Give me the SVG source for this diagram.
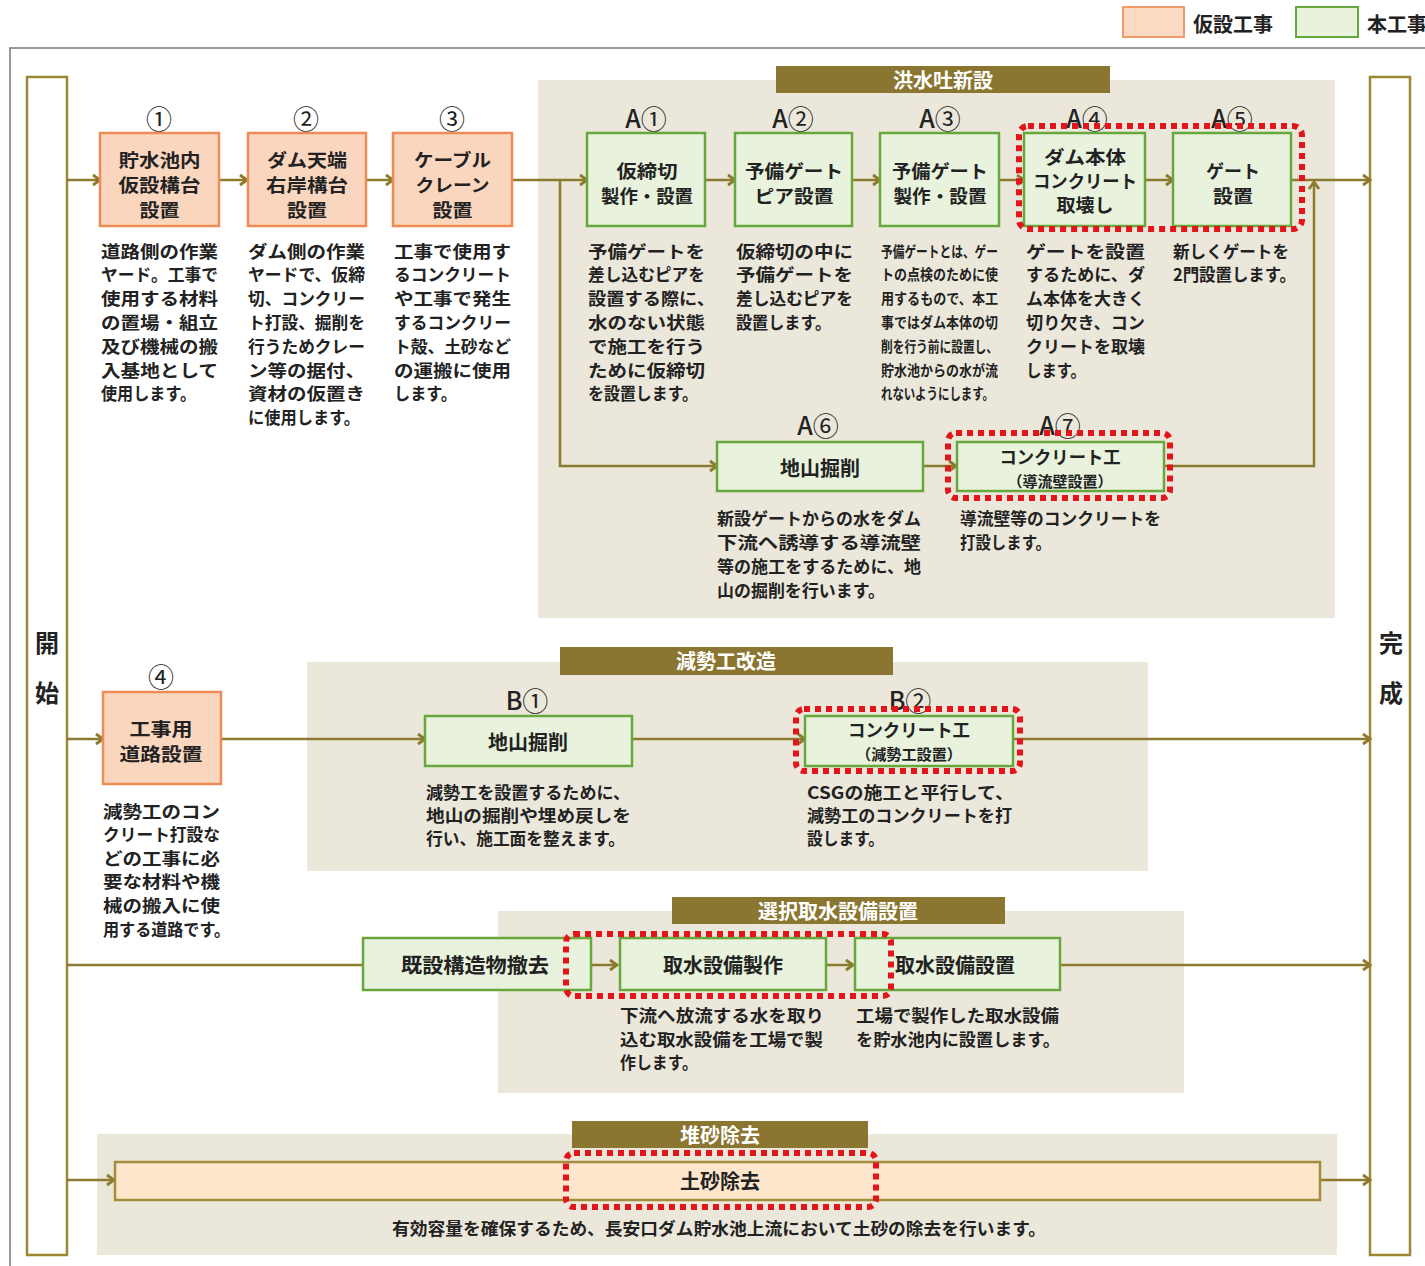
<svg xmlns="http://www.w3.org/2000/svg" width="1425" height="1266" viewBox="0 0 1425 1266">
<defs>
<style>
.t{font-family:"Noto Sans CJK JP","Noto Sans CJK SC",sans-serif;fill:#222;dominant-baseline:central}
.n{font-size:18px;font-weight:bold;text-anchor:middle}
.n1{font-size:20px;font-weight:bold;text-anchor:middle}
.ns{font-size:15px;font-weight:bold;text-anchor:middle}
.lb{font-size:26px;text-anchor:middle}
.lb tspan.a{font-size:25px;font-weight:500}
.d{font-size:17px;font-weight:bold}
.ds{font-size:15px;font-weight:bold}
.h{font-size:20px;font-weight:bold;text-anchor:middle;fill:#fff}
.se{font-size:24px;font-weight:bold;text-anchor:middle}
.bg{fill:#ebe8db}
.hd{fill:#8a7630}
.or{fill:#fbd6bf;stroke:#ef8c55;stroke-width:2.5}
.gr{fill:#e8f2dc;stroke:#67a83d;stroke-width:2.5}
.bar{fill:#fff;stroke:#9c8733;stroke-width:2.5}
.ln{fill:none;stroke:#8c7b2e;stroke-width:2.5}
.red{fill:none;stroke:#e3151a;stroke-width:6;stroke-dasharray:6 5}
</style>
<marker id="ar" markerUnits="userSpaceOnUse" markerWidth="12" markerHeight="14" refX="9" refY="6" orient="auto" viewBox="0 0 12 12">
<path d="M2,1 L9,6 L2,11" fill="none" stroke="#8c7b2e" stroke-width="2.8"/>
</marker>
</defs>
<rect width="1425" height="1266" fill="#fff"/>
<path d="M10,1266 V48 H1425" fill="none" stroke="#777" stroke-width="1.5"/>

<g id="legend">
<rect x="1123" y="7" width="61" height="30" fill="#fbd9c2" stroke="#ef9a68" stroke-width="2"/>
<text class="t" x="1193" y="23" font-size="20" font-weight="bold">仮設工事</text>
<rect x="1296" y="7" width="62" height="30" fill="#e8f2dc" stroke="#67a83d" stroke-width="2"/>
<text class="t" x="1367" y="23" font-size="20" font-weight="bold">本工事</text>
</g>

<g id="group-bgs">
<rect class="bg" x="538" y="80" width="797" height="538"/>
<rect class="hd" x="776" y="66" width="334" height="27"/>
<text class="t h" x="943" y="79">洪水吐新設</text>
<rect class="bg" x="307" y="662" width="841" height="209"/>
<rect class="hd" x="560" y="647" width="333" height="28"/>
<text class="t h" x="726" y="660">減勢工改造</text>
<rect class="bg" x="498" y="911" width="686" height="182"/>
<rect class="hd" x="672" y="897" width="333" height="27"/>
<text class="t h" x="838" y="910">選択取水設備設置</text>
<rect class="bg" x="97" y="1134" width="1240" height="121"/>
<rect class="hd" x="572" y="1121" width="296" height="27"/>
<text class="t h" x="720" y="1134">堆砂除去</text>
</g>

<g id="start">
<rect class="bar" x="27" y="77" width="40" height="1178"/>
<text class="t se" x="47" y="641">開</text>
<text class="t se" x="47" y="691">始</text>
</g>
<g id="end">
<rect class="bar" x="1370" y="77" width="40" height="1178"/>
<text class="t se" x="1391" y="641">完</text>
<text class="t se" x="1391" y="691">成</text>
</g>

<g id="connectors">
<path class="ln" marker-end="url(#ar)" d="M67,180 H100"/>
<path class="ln" marker-end="url(#ar)" d="M219,180 H247"/>
<path class="ln" marker-end="url(#ar)" d="M366,180 H393"/>
<path class="ln" marker-end="url(#ar)" d="M512,180 H587"/>
<path class="ln" marker-end="url(#ar)" d="M705,180 H735"/>
<path class="ln" marker-end="url(#ar)" d="M852,180 H880"/>
<path class="ln" marker-end="url(#ar)" d="M999,180 H1024"/>
<path class="ln" marker-end="url(#ar)" d="M1145,180 H1173"/>
<path class="ln" marker-end="url(#ar)" d="M1291,180 H1370"/>
<path class="ln" marker-end="url(#ar)" d="M560,180 V466 H717"/>
<path class="ln" marker-end="url(#ar)" d="M923,466 H956"/>
<path class="ln" marker-end="url(#ar)" d="M1164,466 H1314 V182"/>
<path class="ln" marker-end="url(#ar)" d="M67,739 H103"/>
<path class="ln" marker-end="url(#ar)" d="M221,739 H425"/>
<path class="ln" marker-end="url(#ar)" d="M632,739 H805"/>
<path class="ln" marker-end="url(#ar)" d="M1013,739 H1370"/>
<path class="ln" d="M67,965 H363"/>
<path class="ln" marker-end="url(#ar)" d="M592,965 H617"/>
<path class="ln" marker-end="url(#ar)" d="M826,965 H853"/>
<path class="ln" marker-end="url(#ar)" d="M1060,965 H1370"/>
<path class="ln" marker-end="url(#ar)" d="M67,1180 H114"/>
<path class="ln" marker-end="url(#ar)" d="M1320,1180 H1370"/>
</g>

<g id="n1">
<text class="t lb" x="159" y="117">①</text>
<rect class="or" x="100" y="133" width="119" height="93"/>
<text class="t n" x="159.5" y="159" textLength="82" lengthAdjust="spacingAndGlyphs">貯水池内</text>
<text class="t n" x="159.5" y="184" textLength="82" lengthAdjust="spacingAndGlyphs">仮設構台</text>
<text class="t n" x="159.5" y="209" textLength="40" lengthAdjust="spacingAndGlyphs">設置</text>
<text class="t d" x="101" y="250" textLength="117" lengthAdjust="spacingAndGlyphs">道路側の作業</text>
<text class="t d" x="101" y="273.8" textLength="117" lengthAdjust="spacingAndGlyphs">ヤード。工事で</text>
<text class="t d" x="101" y="297.6" textLength="117" lengthAdjust="spacingAndGlyphs">使用する材料</text>
<text class="t d" x="101" y="321.4" textLength="117" lengthAdjust="spacingAndGlyphs">の置場・組立</text>
<text class="t d" x="101" y="345.2" textLength="117" lengthAdjust="spacingAndGlyphs">及び機械の搬</text>
<text class="t d" x="101" y="369" textLength="117" lengthAdjust="spacingAndGlyphs">入基地として</text>
<text class="t d" x="101" y="392.8" textLength="95" lengthAdjust="spacingAndGlyphs">使用します。</text>
</g>

<g id="n2">
<text class="t lb" x="306" y="117">②</text>
<rect class="or" x="248" y="133" width="118" height="93"/>
<text class="t n" x="307" y="159" textLength="80" lengthAdjust="spacingAndGlyphs">ダム天端</text>
<text class="t n" x="307" y="184" textLength="82" lengthAdjust="spacingAndGlyphs">右岸構台</text>
<text class="t n" x="307" y="209" textLength="40" lengthAdjust="spacingAndGlyphs">設置</text>
<text class="t d" x="248" y="250" textLength="117" lengthAdjust="spacingAndGlyphs">ダム側の作業</text>
<text class="t d" x="248" y="273.8" textLength="117" lengthAdjust="spacingAndGlyphs">ヤードで、仮締</text>
<text class="t d" x="248" y="297.6" textLength="117" lengthAdjust="spacingAndGlyphs">切、コンクリー</text>
<text class="t d" x="248" y="321.4" textLength="117" lengthAdjust="spacingAndGlyphs">ト打設、掘削を</text>
<text class="t d" x="248" y="345.2" textLength="117" lengthAdjust="spacingAndGlyphs">行うためクレー</text>
<text class="t d" x="248" y="369" textLength="117" lengthAdjust="spacingAndGlyphs">ン等の据付、</text>
<text class="t d" x="248" y="392.8" textLength="117" lengthAdjust="spacingAndGlyphs">資材の仮置き</text>
<text class="t d" x="248" y="416.6" textLength="112" lengthAdjust="spacingAndGlyphs">に使用します。</text>
</g>

<g id="n3">
<text class="t lb" x="452" y="117">③</text>
<rect class="or" x="393" y="133" width="119" height="93"/>
<text class="t n" x="452.5" y="159" textLength="77" lengthAdjust="spacingAndGlyphs">ケーブル</text>
<text class="t n" x="452.5" y="184" textLength="74" lengthAdjust="spacingAndGlyphs">クレーン</text>
<text class="t n" x="452.5" y="209" textLength="40" lengthAdjust="spacingAndGlyphs">設置</text>
<text class="t d" x="394" y="250" textLength="117" lengthAdjust="spacingAndGlyphs">工事で使用す</text>
<text class="t d" x="394" y="273.8" textLength="117" lengthAdjust="spacingAndGlyphs">るコンクリート</text>
<text class="t d" x="394" y="297.6" textLength="117" lengthAdjust="spacingAndGlyphs">や工事で発生</text>
<text class="t d" x="394" y="321.4" textLength="117" lengthAdjust="spacingAndGlyphs">するコンクリー</text>
<text class="t d" x="394" y="345.2" textLength="117" lengthAdjust="spacingAndGlyphs">ト殻、土砂など</text>
<text class="t d" x="394" y="369" textLength="117" lengthAdjust="spacingAndGlyphs">の運搬に使用</text>
<text class="t d" x="394" y="392.8" textLength="63" lengthAdjust="spacingAndGlyphs">します。</text>
</g>

<g id="a1">
<text class="t lb" x="646" y="117"><tspan class="a">A</tspan>①</text>
<rect class="gr" x="587" y="133" width="118" height="93"/>
<text class="t n" x="647" y="170" textLength="61" lengthAdjust="spacingAndGlyphs">仮締切</text>
<text class="t n" x="647" y="195" textLength="92" lengthAdjust="spacingAndGlyphs">製作・設置</text>
<text class="t d" x="588" y="250" textLength="117" lengthAdjust="spacingAndGlyphs">予備ゲートを</text>
<text class="t d" x="588" y="273.8" textLength="117" lengthAdjust="spacingAndGlyphs">差し込むピアを</text>
<text class="t d" x="588" y="297.6" textLength="127" lengthAdjust="spacingAndGlyphs">設置する際に、</text>
<text class="t d" x="588" y="321.4" textLength="117" lengthAdjust="spacingAndGlyphs">水のない状態</text>
<text class="t d" x="588" y="345.2" textLength="117" lengthAdjust="spacingAndGlyphs">で施工を行う</text>
<text class="t d" x="588" y="369" textLength="117" lengthAdjust="spacingAndGlyphs">ために仮締切</text>
<text class="t d" x="588" y="392.8" textLength="110" lengthAdjust="spacingAndGlyphs">を設置します。</text>
</g>

<g id="a2">
<text class="t lb" x="793" y="117"><tspan class="a">A</tspan>②</text>
<rect class="gr" x="735" y="133" width="117" height="93"/>
<text class="t n" x="794" y="170" textLength="98" lengthAdjust="spacingAndGlyphs">予備ゲート</text>
<text class="t n" x="794" y="195" textLength="79" lengthAdjust="spacingAndGlyphs">ピア設置</text>
<text class="t d" x="736" y="250" textLength="117" lengthAdjust="spacingAndGlyphs">仮締切の中に</text>
<text class="t d" x="736" y="273.8" textLength="117" lengthAdjust="spacingAndGlyphs">予備ゲートを</text>
<text class="t d" x="736" y="297.6" textLength="117" lengthAdjust="spacingAndGlyphs">差し込むピアを</text>
<text class="t d" x="736" y="321.4" textLength="95" lengthAdjust="spacingAndGlyphs">設置します。</text>
</g>

<g id="a3">
<text class="t lb" x="940" y="117"><tspan class="a">A</tspan>③</text>
<rect class="gr" x="880" y="133" width="119" height="93"/>
<text class="t n" x="940" y="170" textLength="96" lengthAdjust="spacingAndGlyphs">予備ゲート</text>
<text class="t n" x="940" y="195" textLength="93" lengthAdjust="spacingAndGlyphs">製作・設置</text>
<text class="t ds" x="881" y="250" textLength="117" lengthAdjust="spacingAndGlyphs">予備ゲートとは、ゲー</text>
<text class="t ds" x="881" y="273.8" textLength="117" lengthAdjust="spacingAndGlyphs">トの点検のために使</text>
<text class="t ds" x="881" y="297.6" textLength="117" lengthAdjust="spacingAndGlyphs">用するもので、本工</text>
<text class="t ds" x="881" y="321.4" textLength="117" lengthAdjust="spacingAndGlyphs">事ではダム本体の切</text>
<text class="t ds" x="881" y="345.2" textLength="117" lengthAdjust="spacingAndGlyphs">削を行う前に設置し、</text>
<text class="t ds" x="881" y="369" textLength="117" lengthAdjust="spacingAndGlyphs">貯水池からの水が流</text>
<text class="t ds" x="881" y="392.8" textLength="113" lengthAdjust="spacingAndGlyphs">れないようにします。</text>
</g>

<g id="a4">
<text class="t lb" x="1087" y="117"><tspan class="a">A</tspan>④</text>
<rect class="gr" x="1024" y="133" width="121" height="93"/>
<text class="t n" x="1085" y="156" textLength="82" lengthAdjust="spacingAndGlyphs">ダム本体</text>
<text class="t n" x="1085" y="180" textLength="104" lengthAdjust="spacingAndGlyphs">コンクリート</text>
<text class="t n" x="1085" y="204" textLength="57" lengthAdjust="spacingAndGlyphs">取壊し</text>
<text class="t d" x="1026" y="250" textLength="119" lengthAdjust="spacingAndGlyphs">ゲートを設置</text>
<text class="t d" x="1026" y="273.8" textLength="119" lengthAdjust="spacingAndGlyphs">するために、ダ</text>
<text class="t d" x="1026" y="297.6" textLength="119" lengthAdjust="spacingAndGlyphs">ム本体を大きく</text>
<text class="t d" x="1026" y="321.4" textLength="119" lengthAdjust="spacingAndGlyphs">切り欠き、コン</text>
<text class="t d" x="1026" y="345.2" textLength="119" lengthAdjust="spacingAndGlyphs">クリートを取壊</text>
<text class="t d" x="1026" y="369" textLength="60" lengthAdjust="spacingAndGlyphs">します。</text>
</g>

<g id="a5">
<text class="t lb" x="1232" y="117"><tspan class="a">A</tspan>⑤</text>
<rect class="gr" x="1173" y="133" width="118" height="93"/>
<text class="t n" x="1233" y="170" textLength="54" lengthAdjust="spacingAndGlyphs">ゲート</text>
<text class="t n" x="1233" y="195" textLength="40" lengthAdjust="spacingAndGlyphs">設置</text>
<text class="t d" x="1173" y="250" textLength="116" lengthAdjust="spacingAndGlyphs">新しくゲートを</text>
<text class="t d" x="1173" y="273.8" textLength="123" lengthAdjust="spacingAndGlyphs">2門設置します。</text>
</g>

<g id="a6">
<text class="t lb" x="818" y="424"><tspan class="a">A</tspan>⑥</text>
<rect class="gr" x="717" y="442" width="206" height="49"/>
<text class="t n1" x="820" y="467">地山掘削</text>
<text class="t d" x="717" y="517" textLength="204" lengthAdjust="spacingAndGlyphs">新設ゲートからの水をダム</text>
<text class="t d" x="717" y="541" textLength="204" lengthAdjust="spacingAndGlyphs">下流へ誘導する導流壁</text>
<text class="t d" x="717" y="565" textLength="204" lengthAdjust="spacingAndGlyphs">等の施工をするために、地</text>
<text class="t d" x="717" y="589" textLength="168" lengthAdjust="spacingAndGlyphs">山の掘削を行います。</text>
</g>

<g id="a7">
<text class="t lb" x="1060" y="424"><tspan class="a">A</tspan>⑦</text>
<rect class="gr" x="957" y="442" width="207" height="49"/>
<text class="t n" x="1060" y="456" textLength="121" lengthAdjust="spacingAndGlyphs">コンクリート工</text>
<text class="t ns" x="1060" y="480" textLength="105" lengthAdjust="spacingAndGlyphs">（導流壁設置）</text>
<text class="t d" x="960" y="517" textLength="201" lengthAdjust="spacingAndGlyphs">導流壁等のコンクリートを</text>
<text class="t d" x="960" y="541" textLength="91" lengthAdjust="spacingAndGlyphs">打設します。</text>
</g>

<g id="n4">
<text class="t lb" x="161" y="675">④</text>
<rect class="or" x="103" y="692" width="118" height="92"/>
<text class="t n" x="161" y="728" textLength="63" lengthAdjust="spacingAndGlyphs">工事用</text>
<text class="t n" x="161" y="753" textLength="83" lengthAdjust="spacingAndGlyphs">道路設置</text>
<text class="t d" x="103" y="810" textLength="117" lengthAdjust="spacingAndGlyphs">減勢工のコン</text>
<text class="t d" x="103" y="833.6" textLength="117" lengthAdjust="spacingAndGlyphs">クリート打設な</text>
<text class="t d" x="103" y="857.2" textLength="117" lengthAdjust="spacingAndGlyphs">どの工事に必</text>
<text class="t d" x="103" y="880.8" textLength="117" lengthAdjust="spacingAndGlyphs">要な材料や機</text>
<text class="t d" x="103" y="904.4" textLength="117" lengthAdjust="spacingAndGlyphs">械の搬入に使</text>
<text class="t d" x="103" y="928" textLength="127" lengthAdjust="spacingAndGlyphs">用する道路です。</text>
</g>

<g id="b1">
<text class="t lb" x="527" y="699"><tspan class="a">B</tspan>①</text>
<rect class="gr" x="425" y="716" width="207" height="50"/>
<text class="t n1" x="528" y="741">地山掘削</text>
<text class="t d" x="426" y="791" textLength="204" lengthAdjust="spacingAndGlyphs">減勢工を設置するために、</text>
<text class="t d" x="426" y="814" textLength="205" lengthAdjust="spacingAndGlyphs">地山の掘削や埋め戻しを</text>
<text class="t d" x="426" y="837" textLength="199" lengthAdjust="spacingAndGlyphs">行い、施工面を整えます。</text>
</g>

<g id="b2">
<text class="t lb" x="910" y="699"><tspan class="a">B</tspan>②</text>
<rect class="gr" x="805" y="716" width="208" height="50"/>
<text class="t n" x="909" y="729" textLength="122" lengthAdjust="spacingAndGlyphs">コンクリート工</text>
<text class="t ns" x="909" y="753" textLength="106" lengthAdjust="spacingAndGlyphs">（減勢工設置）</text>
<text class="t d" x="807" y="791" textLength="207" lengthAdjust="spacingAndGlyphs">CSGの施工と平行して、</text>
<text class="t d" x="807" y="814" textLength="205" lengthAdjust="spacingAndGlyphs">減勢工のコンクリートを打</text>
<text class="t d" x="807" y="837" textLength="77" lengthAdjust="spacingAndGlyphs">設します。</text>
</g>

<g id="c0">
<rect class="gr" x="363" y="938" width="228" height="52"/>
<text class="t n1" x="475" y="964" textLength="148" lengthAdjust="spacingAndGlyphs">既設構造物撤去</text>
</g>
<g id="c1">
<rect class="gr" x="620" y="938" width="206" height="52"/>
<text class="t n1" x="723" y="964">取水設備製作</text>
<text class="t d" x="620" y="1014" textLength="204" lengthAdjust="spacingAndGlyphs">下流へ放流する水を取り</text>
<text class="t d" x="620" y="1038" textLength="203" lengthAdjust="spacingAndGlyphs">込む取水設備を工場で製</text>
<text class="t d" x="620" y="1061" textLength="78" lengthAdjust="spacingAndGlyphs">作します。</text>
</g>
<g id="c2">
<rect class="gr" x="855" y="938" width="205" height="52"/>
<text class="t n1" x="955" y="964">取水設備設置</text>
<text class="t d" x="856" y="1014" textLength="203" lengthAdjust="spacingAndGlyphs">工場で製作した取水設備</text>
<text class="t d" x="856" y="1038" textLength="204" lengthAdjust="spacingAndGlyphs">を貯水池内に設置します。</text>
</g>

<g id="d1">
<rect x="115" y="1162" width="1205" height="38" fill="#fde6cc" stroke="#a38d3a" stroke-width="2.5"/>
<text class="t n1" x="720" y="1180">土砂除去</text>
<text class="t d" x="392" y="1227" textLength="654" lengthAdjust="spacingAndGlyphs">有効容量を確保するため、長安口ダム貯水池上流において土砂の除去を行います。</text>
</g>

<g id="highlights">
<rect class="red" x="1019" y="126" width="283" height="103" rx="9"/>
<rect class="red" x="948" y="433" width="222" height="65" rx="8"/>
<rect class="red" x="796" y="709" width="224" height="62" rx="8"/>
<rect class="red" x="566" y="934" width="325" height="62" rx="8"/>
<rect class="red" x="566" y="1153" width="310" height="54" rx="8"/>
</g>
</svg>
